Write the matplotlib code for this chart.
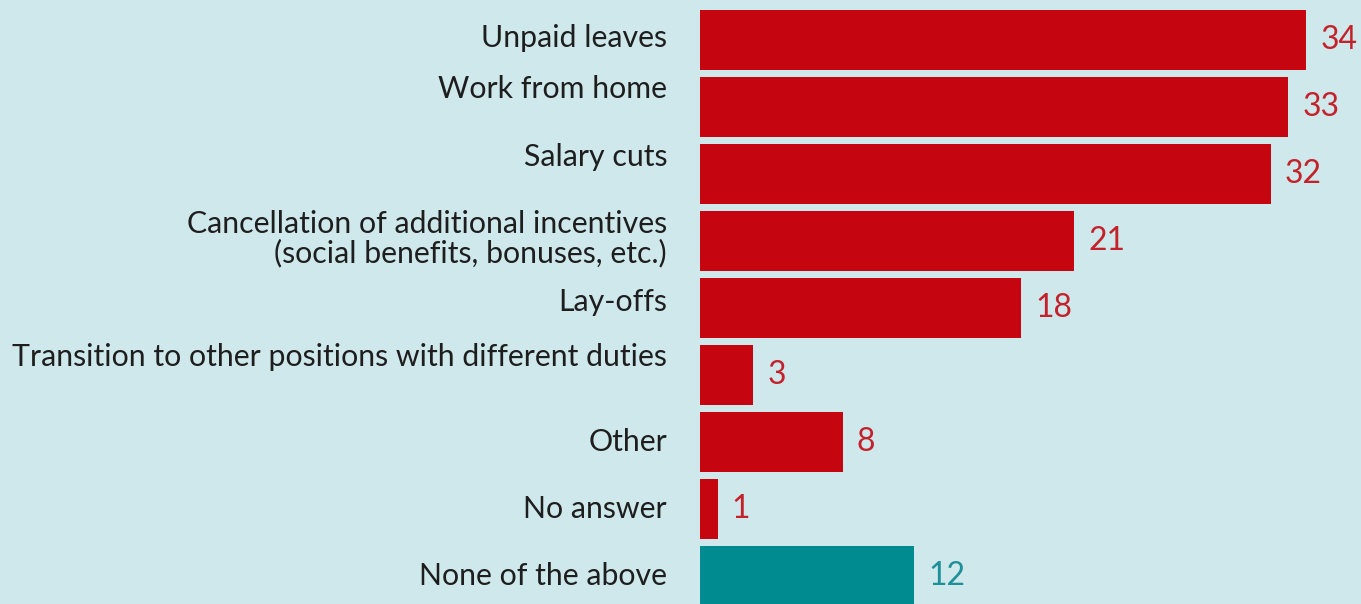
import matplotlib
matplotlib.use("Agg")
import matplotlib.pyplot as plt
from matplotlib.transforms import offset_copy

categories = [
    "Unpaid leaves",
    "Work from home",
    "Salary cuts",
    "Cancellation of additional incentives\n(social benefits, bonuses, etc.)",
    "Lay-offs",
    "Transition to other positions with different duties",
    "Other",
    "No answer",
    "None of the above",
]
values = [34, 33, 32, 21, 18, 3, 8, 1, 12]
is_none = [False, False, False, False, False, False, False, False, True]

# label vertical nudges in pixels (style only)
label_dy = [2, 18, 17, 2, 6, 18, 0, 0, 0]

BG = "#cee8eb"
RED = "#c50611"
TEAL = "#008b91"
RED_TXT = "#c4222b"
TEAL_TXT = "#1d9099"
LBL = "#1e1e1e"

W, H, DPI = 1361, 604, 100
fig = plt.figure(figsize=(W / DPI, H / DPI), dpi=DPI, facecolor=BG)
x0 = 700
ax = fig.add_axes([x0 / W, 0, (W - x0) / W, 1])
ax.set_facecolor(BG)
px_per_unit = 17.83
ax.set_xlim(0, (W - x0) / px_per_unit)
pitch = 67.0
first_center = 39.7
ax.set_ylim((H - first_center) / pitch, -first_center / pitch)
ax.axis("off")

ys = list(range(len(values)))
colors = [TEAL if n else RED for n in is_none]
ax.barh(ys, values, height=60 / pitch, color=colors, linewidth=0)

family = ["Lato", "DejaVu Sans"]
lab_size = 21.8
val_size = 23
for y, v, n, cat, dy in zip(ys, values, is_none, categories, label_dy):
    tr = offset_copy(ax.transData, fig=fig, x=14, y=0, units="dots")
    ax.text(v, y, str(v), transform=tr, ha="left", va="center",
            fontsize=val_size, color=TEAL_TXT if n else RED_TXT, family=family)
    trl = offset_copy(ax.transData, fig=fig, x=-(x0 - 667), y=dy, units="dots")
    ax.text(0, y, cat, transform=trl, ha="right", va="center", fontsize=lab_size,
            color=LBL, family=family, linespacing=1.0, multialignment="right")

fig.savefig("out.png", dpi=DPI, facecolor=BG)
